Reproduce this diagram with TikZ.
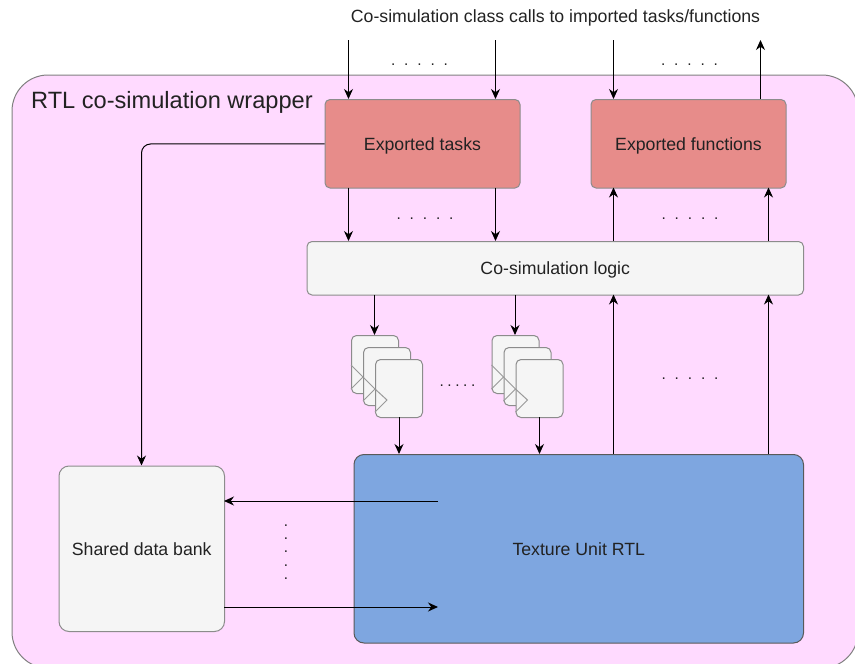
\documentclass[tikz,border=0pt]{standalone}
\usepackage{fontspec}
\setmainfont{Liberation Sans}
\usetikzlibrary{arrows.meta}
\definecolor{wrapfill}{HTML}{FFDAFF}
\definecolor{redfill}{HTML}{E78C8A}
\definecolor{greyfill}{HTML}{F5F5F5}
\definecolor{bluefill}{HTML}{7EA6E0}
\definecolor{txt}{HTML}{222222}
\tikzset{
  x=1pt,y=-1pt,
  box/.style={draw=#1,line width=1pt,rounded corners=5pt,anchor=north west,inner sep=0pt,text=txt,font=\fontsize{17.7}{20}\selectfont},
  box/.default=black!45,
  conn/.style={draw=black,line width=1pt,-{Stealth[length=10pt,width=9pt]}},
  dots/.style={inner sep=0pt,text=txt,font=\fontsize{15.4}{18}\selectfont},
  ff/.style={box,fill=greyfill,minimum width=47pt,minimum height=58pt},
  clk/.style={draw=black!40,line width=1pt}
}
\newcommand{\spdots}{.\hspace{8.9pt}.\hspace{8.9pt}.\hspace{8.9pt}.\hspace{8.9pt}.}
\newcommand{\lowered}[1]{\raisebox{-2pt}[\height][\depth]{#1}}
\begin{document}
\begin{tikzpicture}
\useasboundingbox (0,0) rectangle (855,664);
\begin{scope}
\clip (0,0) rectangle (855,664);
\draw[draw=black!50,line width=1pt,fill=wrapfill,rounded corners=36pt] (12,75) rectangle (858,668);
\end{scope}
\node[anchor=west,inner sep=0pt,text=txt,font=\fontsize{23.6}{26}\selectfont] (title) at (31,102) {RTL co-simulation wrapper};
\node[anchor=center,inner sep=0pt,text=txt,font=\fontsize{17.7}{20}\selectfont] (top) at (555.5,18) {Co-simulation class calls to imported tasks/functions};

\node[box,fill=redfill,minimum width=195pt,minimum height=88.5pt] (et) at (324.5,99) {\lowered{Exported tasks}};
\node[box,fill=redfill,minimum width=195pt,minimum height=88.5pt] (ef) at (590.5,99) {\lowered{Exported functions}};
\node[box,fill=greyfill,minimum width=496.5pt,minimum height=53.5pt] (cl) at (306.5,241) {\lowered{Co-simulation logic}};
\node[box,fill=greyfill,minimum width=165.5pt,minimum height=165.5pt,rounded corners=10pt] (sd) at (58.5,465.5) {Shared data bank};
\node[box=black!65,fill=bluefill,minimum width=449.5pt,minimum height=188.5pt,rounded corners=10pt] (tu) at (353.5,454) {Texture Unit RTL};

% flip-flop stacks
\foreach \n/\ox in {a/351,b/491.5}{
  \node[ff] (\n1) at (\ox,335) {};
  \draw[clk] (\ox,365) -- (\ox+12,377) -- (\ox,389);
  \node[ff] (\n2) at (\ox+12,347) {};
  \draw[clk] (\ox+12,377) -- (\ox+24,389) -- (\ox+12,401);
  \node[ff] (\n3) at (\ox+24,359) {};
  \draw[clk] (\ox+24,389) -- (\ox+36,400) -- (\ox+24,412);
}

% coordinates for free ends
\coordinate (t1) at (348.5,40);
\coordinate (t2) at (495.5,40);
\coordinate (t3) at (613.5,40);
\coordinate (t4) at (760.5,40);
\coordinate (tuin) at (438,501);
\coordinate (tuin2) at (438,607);
\coordinate (sdo) at (224,607);
\coordinate (sdi) at (224,501);

\draw[conn] (t1) -- (348.5,99);
\draw[conn] (t2) -- (495.5,99);
\draw[conn] (t3) -- (613.5,99);
\draw[conn] (760.5,99) -- (t4);
\draw[conn] (348.5,187.5) -- (348.5,241);
\draw[conn] (495.5,187.5) -- (495.5,241);
\draw[conn] (613.5,241) -- (613.5,187.5);
\draw[conn] (768.5,241) -- (768.5,187.5);
\draw[conn] (374.5,294.5) -- (374.5,335);
\draw[conn] (515,294.5) -- (515,335);
\draw[conn] (399,417) -- (399,454);
\draw[conn] (539.5,417) -- (539.5,454);
\draw[conn] (613.5,454) -- (613.5,294.5);
\draw[conn] (768.5,454) -- (768.5,294.5);
\draw[conn,rounded corners=9pt] (et.west) -- (141.5,144) -- (141.5,465.5);
\draw[conn] (tuin) -- (sdi);
\draw[conn] (sdo) -- (tuin2);

\node[dots] (d1) at (419.5,65) {\spdots};
\node[dots] (d2) at (689.5,65) {\spdots};
\node[dots] (d3) at (425,219) {\spdots};
\node[dots] (d4) at (690,219) {\spdots};
\node[dots] (d5) at (457.5,386) {.\hspace{3.6pt}.\hspace{3.6pt}.\hspace{3.6pt}.\hspace{3.6pt}.};
\node[dots] (d6) at (690,379) {\spdots};
\node[dots,rotate=-90] (d7) at (286,552) {\spdots};
\end{tikzpicture}
\end{document}
